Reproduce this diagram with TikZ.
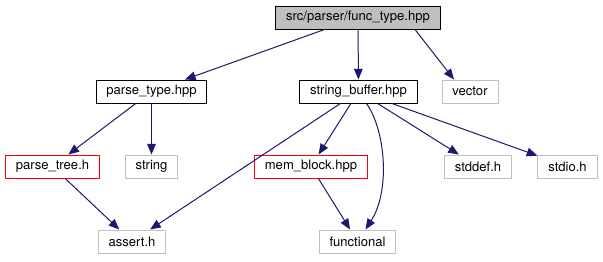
\documentclass[tikz,border=0pt]{standalone}
\usepackage{fontspec}
\setmainfont{TeX Gyre Heros}
\usetikzlibrary{arrows.meta,calc}
\definecolor{edgeblue}{HTML}{191970}
\definecolor{sysgray}{HTML}{BFBFBF}

\begin{document}
\begin{tikzpicture}[x=0.75pt,y=-0.75pt,
    file/.style={draw=black,rectangle,line width=0.75pt,inner xsep=7.8pt,
      minimum height=17.25pt,font=\fontsize{9.8}{11}\selectfont},
    top/.style={file,fill=sysgray},
    part/.style={file,draw=red},
    sys/.style={file,draw=sysgray},
    dep/.style={edgeblue,line width=0.75pt,-{Triangle[length=8pt,width=6.5pt]}}]
  \useasboundingbox (0,0) rectangle (603,261);

  \node[top]  (func)  at (358,17.5)   {src/parser/func\_type.hpp};

  \node[file] (ptype) at (151.5,91.5) {parse\_type.hpp};
  \node[file] (sbuf)  at (358.5,91.5) {string\_buffer.hpp};
  \node[sys]  (vec)   at (470,91.5)   {vector};

  \node[part] (ptree) at (52.5,166.5) {parse\_tree.h};
  \node[sys]  (str)   at (151.5,166.5) {string};
  \node[part] (mblk)  at (311,166.5)  {mem\_block.hpp};
  \node[sys]  (stdd)  at (478,166.5)  {stddef.h};
  \node[sys]  (stdio) at (567.5,166.5) {stdio.h};

  \node[sys]  (asrt)  at (132,241.5)  {assert.h};
  \node[sys]  (func2) at (357.5,241.5) {functional};

  \draw[dep] (func) -- (ptype);
  \draw[dep] (func) -- (sbuf);
  \draw[dep] ($(func.south)+(57,0)$) -- ($(vec.north)+(-16,0)$);
  \draw[dep] (ptype) -- (ptree);
  \draw[dep] (ptype) -- (str);
  \draw[dep] (ptree) -- (asrt);
  \draw[dep] (sbuf) -- (asrt);
  \draw[dep] (sbuf) -- (mblk);
  \draw[dep] ($(sbuf.south)+(8,0)$) .. controls +(19,27) and +(25,-39) .. ($(func2.north)+(8,0)$);
  \draw[dep] (sbuf) -- (stdd);
  \draw[dep] (sbuf) -- (stdio);
  \draw[dep] (mblk) -- (func2);
\end{tikzpicture}
\end{document}
